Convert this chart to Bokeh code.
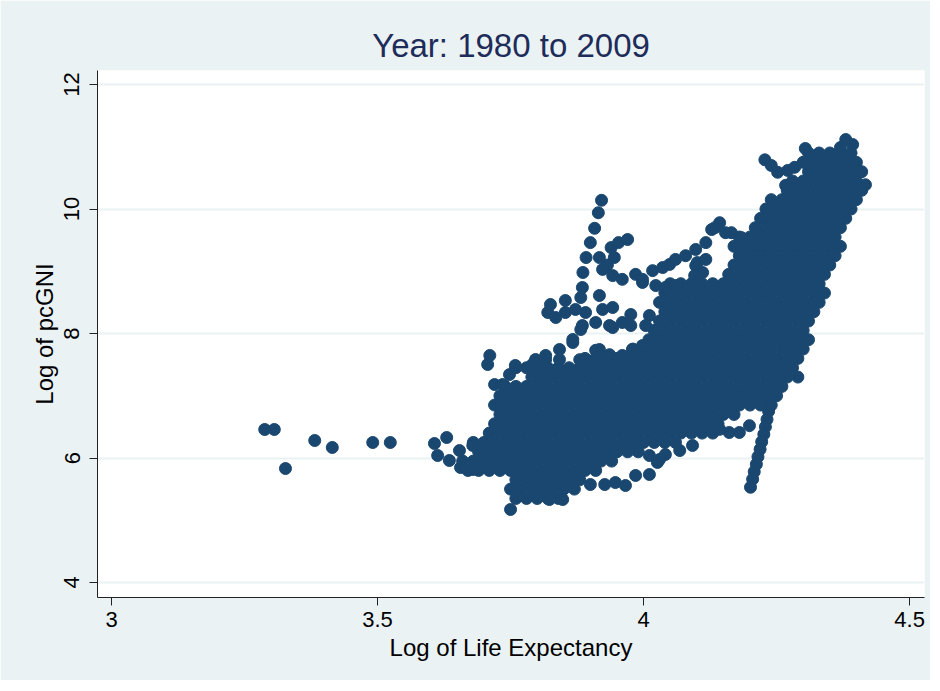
from bokeh.plotting import figure
from bokeh.models import Range1d, FixedTicker, ColumnDataSource
from bokeh.embed import file_html
from bokeh.resources import INLINE

# ---------------- data ----------------
title_text = "Year: 1980 to 2009"
x_label = "Log of Life Expectancy"
y_label = "Log of pcGNI"
x_ticks = [3, 3.5, 4, 4.5]
x_tick_labels = ["3", "3.5", "4", "4.5"]
y_ticks = [4, 6, 8, 10, 12]
y_tick_labels = ["4", "6", "8", "10", "12"]

# dense main cloud, one list of x values per level of y
blob_y = [10.90, 10.75, 10.60, 10.45, 10.30, 10.15, 10.00, 9.85, 9.70, 9.55,
          9.40, 9.25, 9.10, 8.95, 8.80, 8.65, 8.50, 8.35, 8.20, 8.05,
          7.90, 7.75, 7.60, 7.45, 7.30, 7.15, 7.00, 6.85, 6.70, 6.55,
          6.40, 6.25, 6.10, 5.95, 5.80, 5.65, 5.50, 5.35]
blob_x = [
    [4.31, 4.33, 4.35, 4.37, 4.39],
    [4.30, 4.32, 4.34, 4.36, 4.38, 4.40],
    [4.31, 4.33, 4.35, 4.37, 4.39, 4.41],
    [4.28, 4.30, 4.32, 4.34, 4.36, 4.38, 4.40],
    [4.27, 4.29, 4.31, 4.33, 4.35, 4.37, 4.39, 4.41],
    [4.24, 4.26, 4.28, 4.30, 4.32, 4.34, 4.36, 4.38, 4.40],
    [4.23, 4.25, 4.27, 4.29, 4.31, 4.33, 4.35, 4.37, 4.39],
    [4.22, 4.24, 4.26, 4.28, 4.30, 4.32, 4.34, 4.36, 4.38],
    [4.21, 4.23, 4.25, 4.27, 4.29, 4.31, 4.33, 4.35, 4.37],
    [4.18, 4.20, 4.22, 4.24, 4.26, 4.28, 4.30, 4.32, 4.34, 4.36],
    [4.17, 4.19, 4.21, 4.23, 4.25, 4.27, 4.29, 4.31, 4.33, 4.35, 4.37],
    [4.18, 4.20, 4.22, 4.24, 4.26, 4.28, 4.30, 4.32, 4.34, 4.36],
    [4.17, 4.19, 4.21, 4.23, 4.25, 4.27, 4.29, 4.31, 4.33, 4.35],
    [4.16, 4.18, 4.20, 4.22, 4.24, 4.26, 4.28, 4.30, 4.32, 4.34],
    [4.05, 4.07, 4.09, 4.11, 4.13, 4.15, 4.17, 4.19, 4.21, 4.23, 4.25, 4.27, 4.29, 4.31, 4.33],
    [4.04, 4.06, 4.08, 4.10, 4.12, 4.14, 4.16, 4.18, 4.20, 4.22, 4.24, 4.26, 4.28, 4.30, 4.32, 4.34],
    [4.03, 4.05, 4.07, 4.09, 4.11, 4.13, 4.15, 4.17, 4.19, 4.21, 4.23, 4.25, 4.27, 4.29, 4.31, 4.33],
    [4.04, 4.06, 4.08, 4.10, 4.12, 4.14, 4.16, 4.18, 4.20, 4.22, 4.24, 4.26, 4.28, 4.30, 4.32],
    [4.03, 4.05, 4.07, 4.09, 4.11, 4.13, 4.15, 4.17, 4.19, 4.21, 4.23, 4.25, 4.27, 4.29, 4.31],
    [4.02, 4.04, 4.06, 4.08, 4.10, 4.12, 4.14, 4.16, 4.18, 4.20, 4.22, 4.24, 4.26, 4.28, 4.30],
    [4.01, 4.03, 4.05, 4.07, 4.09, 4.11, 4.13, 4.15, 4.17, 4.19, 4.21, 4.23, 4.25, 4.27, 4.29, 4.31],
    [3.98, 4.00, 4.02, 4.04, 4.06, 4.08, 4.10, 4.12, 4.14, 4.16, 4.18, 4.20, 4.22, 4.24, 4.26, 4.28, 4.30],
    [3.89, 3.91, 3.93, 3.95, 3.97, 3.99, 4.01, 4.03, 4.05, 4.07, 4.09, 4.11, 4.13, 4.15, 4.17, 4.19,
     4.21, 4.23, 4.25, 4.27, 4.29],
    [3.76, 3.78, 3.80, 3.82, 3.84, 3.86, 3.88, 3.90, 3.92, 3.94, 3.96, 3.98, 4.00, 4.02, 4.04, 4.06,
     4.08, 4.10, 4.12, 4.14, 4.16, 4.18, 4.20, 4.22, 4.24, 4.26, 4.28],
    [3.79, 3.81, 3.83, 3.85, 3.87, 3.89, 3.91, 3.93, 3.95, 3.97, 3.99, 4.01, 4.03, 4.05, 4.07, 4.09,
     4.11, 4.13, 4.15, 4.17, 4.19, 4.21, 4.23, 4.25, 4.27, 4.29],
    [3.74, 3.76, 3.78, 3.80, 3.82, 3.84, 3.86, 3.88, 3.90, 3.92, 3.94, 3.96, 3.98, 4.00, 4.02, 4.04,
     4.06, 4.08, 4.10, 4.12, 4.14, 4.16, 4.18, 4.20, 4.22, 4.24, 4.26],
    [3.73, 3.75, 3.77, 3.79, 3.81, 3.83, 3.85, 3.87, 3.89, 3.91, 3.93, 3.95, 3.97, 3.99, 4.01, 4.03,
     4.05, 4.07, 4.09, 4.11, 4.13, 4.15, 4.17, 4.19, 4.21, 4.23, 4.25],
    [3.72, 3.74, 3.76, 3.78, 3.80, 3.82, 3.84, 3.86, 3.88, 3.90, 3.92, 3.94, 3.96, 3.98, 4.00, 4.02,
     4.04, 4.06, 4.08, 4.10, 4.12, 4.14, 4.16, 4.18, 4.20, 4.22, 4.24],
    [3.73, 3.75, 3.77, 3.79, 3.81, 3.83, 3.85, 3.87, 3.89, 3.91, 3.93, 3.95, 3.97, 3.99, 4.01, 4.03,
     4.05, 4.07, 4.09, 4.11, 4.13, 4.15, 4.17],
    [3.72, 3.74, 3.76, 3.78, 3.80, 3.82, 3.84, 3.86, 3.88, 3.90, 3.92, 3.94, 3.96, 3.98, 4.00, 4.02,
     4.04, 4.06, 4.08, 4.10, 4.12, 4.14],
    [3.71, 3.73, 3.75, 3.77, 3.79, 3.81, 3.83, 3.85, 3.87, 3.89, 3.91, 3.93, 3.95, 3.97, 3.99, 4.01,
     4.03, 4.05, 4.07, 4.09, 4.11, 4.13],
    [3.68, 3.70, 3.72, 3.74, 3.76, 3.78, 3.80, 3.82, 3.84, 3.86, 3.88, 3.90, 3.92, 3.94, 3.96, 3.98,
     4.00, 4.02, 4.04, 4.06],
    [3.69, 3.71, 3.73, 3.75, 3.77, 3.79, 3.81, 3.83, 3.85, 3.87, 3.89, 3.91, 3.93, 3.95, 3.97, 3.99],
    [3.66, 3.68, 3.70, 3.72, 3.74, 3.76, 3.78, 3.80, 3.82, 3.84, 3.86, 3.88, 3.90, 3.92, 3.94],
    [3.67, 3.69, 3.71, 3.73, 3.75, 3.77, 3.79, 3.81, 3.83, 3.85, 3.87, 3.89, 3.91],
    [3.76, 3.78, 3.80, 3.82, 3.84, 3.86, 3.88],
    [3.75, 3.77, 3.79, 3.81, 3.83, 3.85, 3.87],
    [3.76, 3.78, 3.80, 3.82, 3.84],
]

# isolated observations at the far left
far_x = [3.288, 3.306, 3.327, 3.382, 3.415, 3.491, 3.524]
far_y = [6.458, 6.458, 5.831, 6.281, 6.169, 6.249, 6.249]

# left tail of the cloud
tail_x = [3.607, 3.630, 3.613, 3.635, 3.654, 3.656, 3.679, 3.703, 3.741, 3.679]
tail_y = [6.233, 6.329, 6.040, 5.960, 6.120, 5.847, 5.815, 5.880, 5.880, 6.201]

# left-hand edge beads of the cloud
edge_x = [3.711, 3.707, 3.720, 3.735, 3.748, 3.759, 3.791, 3.816, 3.842, 3.842, 3.867, 3.867,
          3.797, 3.816, 3.917, 3.960, 3.979, 3.998, 3.880, 3.910, 3.936]
edge_y = [7.647, 7.502, 7.180, 7.180, 7.340, 7.486, 7.502, 7.582, 7.582, 7.743, 7.855, 7.904,
          7.582, 7.647, 7.743, 7.647, 7.743, 7.807, 7.580, 7.730, 7.660]

# middle cluster above the cloud
mid_x = [3.885, 3.882, 3.917, 3.825, 3.853, 3.820, 3.835, 3.853, 3.872, 3.891, 3.885, 3.910,
         3.923, 3.942, 3.942, 3.960, 3.976, 3.976, 4.011, 4.004, 4.030, 4.036, 3.882, 3.936]
mid_y = [8.739, 8.578, 8.610, 8.466, 8.530, 8.337, 8.257, 8.337, 8.386, 8.337, 8.128, 8.177,
         8.386, 8.418, 8.096, 8.177, 8.305, 8.128, 8.289, 8.128, 8.064, 8.225, 8.064, 8.128]

# spike and arms in the upper left
arm_x = [3.921, 3.915, 3.908, 3.900, 3.892, 3.886, 3.917, 3.945, 3.939, 3.953, 3.970, 3.932,
         3.923, 3.942, 3.960, 3.985, 3.998, 4.023, 4.041, 4.060,
         4.017, 4.036, 4.049, 4.060, 4.079, 4.098, 4.117, 4.128, 4.134, 4.143, 4.154, 4.165,
         4.184, 4.098, 4.101, 4.117, 4.111, 4.096, 4.098, 4.135, 3.998]
arm_y = [10.14, 9.94, 9.69, 9.46, 9.22, 8.98, 9.22, 9.22, 9.38, 9.46, 9.51, 9.10,
         9.03, 8.93, 8.87, 8.95, 8.82, 8.77, 8.74, 8.77,
         9.01, 9.06, 9.11, 9.19, 9.25, 9.35, 9.46, 9.67, 9.70, 9.78, 9.62, 9.62,
         9.54, 9.09, 9.14, 9.19, 8.98, 8.93, 8.77, 8.74, 8.87]

# top of the cloud
top_x = [4.380, 4.304, 4.393, 4.370, 4.417, 4.228, 4.240, 4.252, 4.271, 4.284, 4.267]
top_y = [11.116, 10.972, 11.036, 10.988, 10.39, 10.79, 10.70, 10.59, 10.62, 10.67, 10.38]

# lower right: notch beads, downward spike, lower edge beads
low_x = [4.199, 4.180, 4.161, 4.143,
         4.235, 4.232, 4.229, 4.226, 4.222, 4.219, 4.215, 4.212, 4.208, 4.205, 4.201,
         3.985, 4.011, 4.026, 4.041, 4.068, 4.092, 4.030, 4.011,
         3.900, 3.927, 3.947, 3.966,
         3.750, 3.765, 3.823, 3.848]
low_y = [6.52, 6.41, 6.41, 6.46,
         6.75, 6.62, 6.50, 6.38, 6.26, 6.14, 6.02, 5.90, 5.78, 5.66, 5.53,
         5.719, 5.735, 5.928, 6.056, 6.120, 6.201, 5.976, 6.040,
         5.574, 5.574, 5.606, 5.558,
         5.173, 5.398, 5.333, 5.333]

# ---------------- assemble ----------------
xs, ys = [], []
for yv, row in zip(blob_y, blob_x):
    for xv in row:
        xs.append(xv)
        ys.append(yv)
for gx, gy in [(far_x, far_y), (tail_x, tail_y), (edge_x, edge_y), (mid_x, mid_y),
               (arm_x, arm_y), (top_x, top_y), (low_x, low_y)]:
    xs.extend(gx)
    ys.extend(gy)

src = ColumnDataSource(data=dict(x=xs, y=ys))

FONT = "Liberation Sans"
MARK = "#1a476f"

p = figure(width=930, height=680, output_backend="svg", toolbar_location=None,
           x_range=Range1d(2.9737, 4.528), y_range=Range1d(3.759, 12.225),
           min_border_left=97, min_border_right=6, min_border_top=70, min_border_bottom=83,
           background_fill_color="white", border_fill_color="#EAF2F3",
           outline_line_color=None)

p.title.text = title_text
p.title.align = "center"
p.title.text_font = FONT
p.title.text_font_size = "33px"
p.title.text_font_style = "normal"
p.title.text_color = "#1e2c5a"
p.title.standoff = 14

p.scatter("x", "y", source=src, size=12, marker="circle",
          fill_color=MARK, line_color=MARK, line_width=1)

p.xaxis.ticker = FixedTicker(ticks=x_ticks)
p.yaxis.ticker = FixedTicker(ticks=y_ticks)
p.xaxis.major_label_overrides = {t: s for t, s in zip(x_ticks, x_tick_labels)}
p.yaxis.major_label_overrides = {t: s for t, s in zip(y_ticks, y_tick_labels)}
p.xaxis.axis_label = x_label
p.yaxis.axis_label = y_label

for ax in (p.xaxis[0], p.yaxis[0]):
    ax.axis_line_color = "#222222"
    ax.axis_line_width = 1
    ax.major_tick_line_color = "#222222"
    ax.major_tick_in = 0
    ax.major_tick_out = 8
    ax.minor_tick_line_color = None
    ax.major_label_text_font = FONT
    ax.major_label_text_font_size = "22px"
    ax.major_label_text_color = "black"
    ax.axis_label_text_font = FONT
    ax.axis_label_text_font_size = "24px"
    ax.axis_label_text_font_style = "normal"
    ax.axis_label_text_color = "black"

p.yaxis.major_label_orientation = "vertical"
p.yaxis.major_label_standoff = 10
p.yaxis.axis_label_standoff = 4
p.xaxis.major_label_standoff = 6
p.xaxis.axis_label_standoff = 4

p.xgrid.grid_line_color = None
p.ygrid.grid_line_color = "#EAF2F3"
p.ygrid.grid_line_width = 2

open("out.html", "w").write(file_html(p, INLINE))
